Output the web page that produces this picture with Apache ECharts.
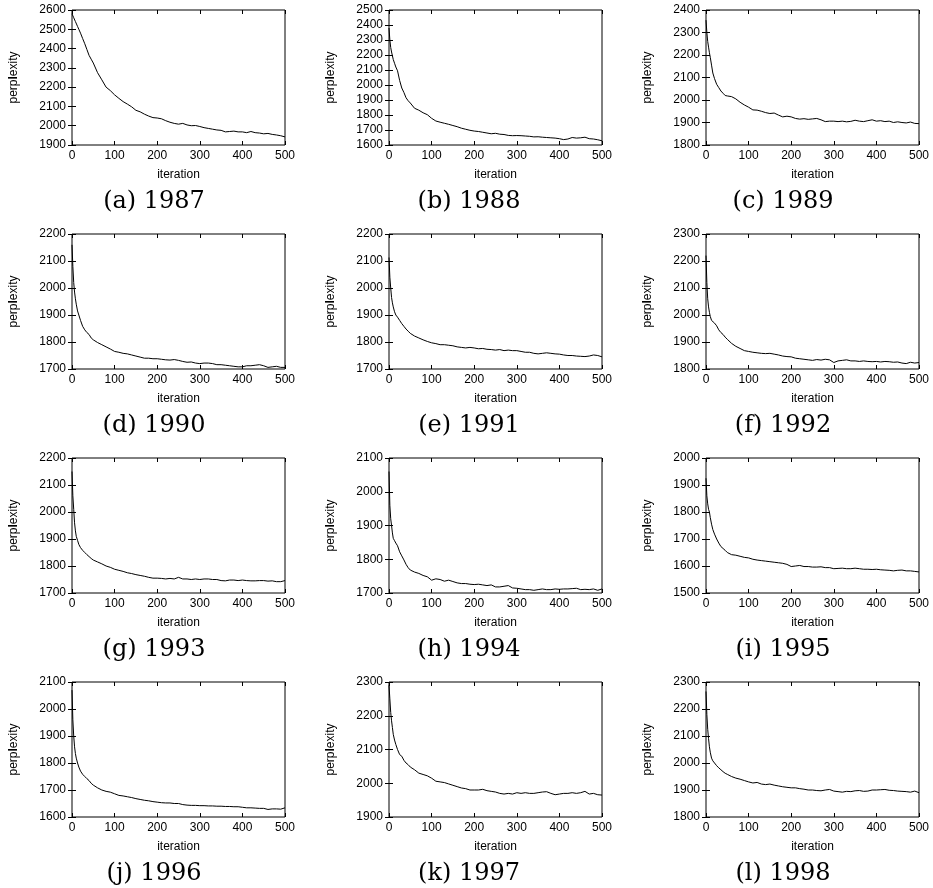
<!DOCTYPE html>
<html>
<head>
<meta charset="utf-8">
<script src="https://cdn.jsdelivr.net/npm/echarts@6/dist/echarts.min.js"></script>
<style>
  html, body { margin: 0; padding: 0; background: #fff; }
  #perp-chart { width: 933px; height: 888px; }
</style>
</head>
<body>
<div id="perp-chart"></div>
<script>
const iterations = [0, 2, 4, 6, 8, 10, 13, 16, 20, 25, 30, 35, 40, 45, 50,
  60, 70, 80, 90, 100, 110, 120, 130, 140, 150, 160, 170, 180, 190, 200,
  210, 220, 230, 240, 250, 260, 270, 280, 290, 300, 310, 320, 330, 340, 350,
  360, 370, 380, 390, 400, 410, 420, 430, 440, 450, 460, 470, 480, 490, 500];

const perp1987 = [2580, 2570, 2560, 2550, 2540, 2530, 2515, 2500, 2480, 2452, 2425, 2395, 2365, 2345, 2325,
  2275, 2238, 2200, 2182, 2160, 2142, 2125, 2112, 2098, 2080, 2072, 2060, 2050, 2042, 2040,
  2036, 2026, 2018, 2012, 2008, 2012, 2004, 2000, 2001, 1996, 1990, 1986, 1982, 1978, 1976,
  1968, 1970, 1972, 1968, 1968, 1964, 1970, 1964, 1962, 1958, 1960, 1955, 1952, 1948, 1942];
const perp1988 = [2380, 2300, 2250, 2220, 2195, 2170, 2145, 2120, 2095, 2030, 1980, 1950, 1915, 1895, 1880,
  1845, 1832, 1815, 1802, 1778, 1760, 1752, 1745, 1738, 1730, 1722, 1712, 1705, 1698, 1693,
  1690, 1685, 1680, 1675, 1678, 1672, 1670, 1664, 1662, 1663, 1662, 1660, 1658, 1654, 1655,
  1652, 1650, 1648, 1646, 1642, 1636, 1640, 1650, 1646, 1648, 1652, 1642, 1640, 1635, 1628];
const perp1989 = [2355, 2300, 2260, 2235, 2210, 2190, 2155, 2120, 2095, 2070, 2055, 2040, 2030, 2020, 2018,
  2015, 2005, 1990, 1978, 1968, 1956, 1955, 1950, 1944, 1940, 1942, 1933, 1925, 1928, 1925,
  1918, 1915, 1917, 1914, 1916, 1918, 1912, 1904, 1906, 1906, 1904, 1906, 1903, 1905, 1910,
  1906, 1904, 1908, 1912, 1906, 1908, 1904, 1906, 1900, 1903, 1900, 1898, 1902, 1896, 1895];
const perp1990 = [2160, 2080, 2020, 1985, 1960, 1940, 1915, 1900, 1880, 1858, 1845, 1835, 1828, 1815, 1808,
  1798, 1790, 1782, 1774, 1765, 1762, 1758, 1756, 1752, 1748, 1744, 1740, 1740, 1738, 1738,
  1736, 1734, 1733, 1735, 1732, 1728, 1725, 1726, 1722, 1720, 1722, 1722, 1720, 1716, 1716,
  1714, 1712, 1710, 1708, 1708, 1712, 1712, 1714, 1716, 1712, 1706, 1708, 1710, 1706, 1706];
const perp1991 = [2113, 2040, 2000, 1965, 1945, 1930, 1912, 1900, 1892, 1880, 1868, 1858, 1848, 1840, 1832,
  1822, 1815, 1808, 1802, 1797, 1794, 1790, 1790, 1788, 1786, 1782, 1780, 1778, 1780, 1778,
  1775, 1776, 1773, 1772, 1770, 1772, 1768, 1770, 1768, 1768, 1765, 1762, 1762, 1758, 1756,
  1758, 1760, 1758, 1756, 1755, 1752, 1750, 1750, 1748, 1747, 1746, 1748, 1752, 1750, 1745];
const perp1992 = [2220, 2120, 2060, 2030, 2010, 1995, 1980, 1975, 1970, 1960, 1945, 1935, 1928, 1918, 1910,
  1895, 1884, 1876, 1868, 1865, 1862, 1860, 1858, 1857, 1858, 1855, 1852, 1848, 1846, 1845,
  1840, 1838, 1836, 1834, 1832, 1835, 1833, 1836, 1834, 1824, 1830, 1832, 1834, 1830, 1830,
  1828, 1830, 1828, 1827, 1828, 1826, 1828, 1827, 1825, 1826, 1822, 1820, 1825, 1822, 1824];
const perp1993 = [2150, 2060, 2010, 1960, 1930, 1910, 1895, 1880, 1868, 1858, 1850, 1842, 1835, 1828, 1822,
  1815, 1808, 1800, 1795, 1788, 1784, 1780, 1775, 1772, 1768, 1765, 1762, 1758, 1755, 1755,
  1754, 1752, 1754, 1752, 1758, 1752, 1752, 1750, 1752, 1750, 1752, 1752, 1750, 1750, 1746,
  1745, 1748, 1748, 1746, 1748, 1746, 1745, 1745, 1746, 1746, 1744, 1745, 1742, 1742, 1746];
const perp1994 = [2060, 1960, 1920, 1900, 1878, 1862, 1855, 1848, 1840, 1822, 1810, 1798, 1785, 1775, 1768,
  1762, 1758, 1752, 1748, 1738, 1742, 1740, 1735, 1738, 1734, 1730, 1728, 1728, 1726, 1725,
  1726, 1724, 1722, 1724, 1718, 1718, 1720, 1722, 1715, 1714, 1712, 1710, 1710, 1708, 1710,
  1712, 1710, 1710, 1712, 1711, 1712, 1712, 1713, 1714, 1710, 1711, 1710, 1712, 1708, 1712];
const perp1995 = [1925, 1860, 1830, 1810, 1800, 1780, 1755, 1735, 1718, 1700, 1685, 1672, 1665, 1658, 1650,
  1642, 1640, 1636, 1632, 1630, 1625, 1622, 1620, 1618, 1616, 1614, 1612, 1610, 1606, 1598,
  1600, 1602, 1598, 1598, 1596, 1596, 1597, 1594, 1594, 1590, 1591, 1592, 1590, 1590, 1592,
  1590, 1588, 1588, 1587, 1588, 1586, 1585, 1584, 1582, 1584, 1585, 1582, 1582, 1580, 1578];
const perp1996 = [2070, 1960, 1900, 1860, 1835, 1818, 1800, 1785, 1770, 1758, 1750, 1742, 1735, 1725, 1718,
  1708, 1700, 1695, 1692, 1686, 1680, 1678, 1675, 1672, 1668, 1665, 1662, 1660, 1657, 1655,
  1653, 1652, 1652, 1650, 1650, 1646, 1644, 1643, 1643, 1642, 1642, 1641, 1641, 1640, 1640,
  1639, 1639, 1638, 1638, 1636, 1634, 1634, 1633, 1632, 1632, 1628, 1630, 1630, 1629, 1634];
const perp1997 = [2290, 2250, 2210, 2185, 2165, 2145, 2128, 2115, 2100, 2085, 2080, 2068, 2060, 2055, 2048,
  2040, 2030, 2026, 2022, 2015, 2006, 2004, 2002, 1998, 1994, 1990, 1986, 1984, 1980, 1980,
  1980, 1982, 1978, 1976, 1974, 1970, 1968, 1970, 1968, 1972, 1970, 1972, 1970, 1970, 1972,
  1974, 1975, 1970, 1966, 1968, 1970, 1970, 1972, 1970, 1972, 1976, 1968, 1970, 1966, 1965];
const perp1998 = [2265, 2180, 2125, 2090, 2060, 2040, 2018, 2008, 2000, 1990, 1982, 1975, 1968, 1962, 1958,
  1950, 1944, 1940, 1935, 1930, 1926, 1928, 1922, 1920, 1922, 1918, 1915, 1912, 1910, 1908,
  1908, 1905, 1903, 1900, 1900, 1898, 1897, 1900, 1902, 1896, 1894, 1892, 1895, 1894, 1897,
  1898, 1895, 1896, 1900, 1900, 1901, 1902, 1899, 1898, 1896, 1895, 1894, 1892, 1896, 1890];

const captions = ['(a) 1987', '(b) 1988', '(c) 1989', '(d) 1990', '(e) 1991', '(f) 1992',
  '(g) 1993', '(h) 1994', '(i) 1995', '(j) 1996', '(k) 1997', '(l) 1998'];
const yMins = [1900, 1600, 1800, 1700, 1700, 1800, 1700, 1700, 1500, 1600, 1900, 1800];
const yMaxs = [2600, 2500, 2400, 2200, 2200, 2300, 2200, 2100, 2000, 2100, 2300, 2300];
const curves = [perp1987, perp1988, perp1989, perp1990, perp1991, perp1992,
  perp1993, perp1994, perp1995, perp1996, perp1997, perp1998];

const chart = echarts.init(document.getElementById('perp-chart'));

const colLeft = [72, 389, 706];
const rowTop = [10, 234, 458, 682];
const capX = [154, 469, 783];
const plotW = 213, plotH = 135;
const sans = 'Liberation Sans, Arial, sans-serif';
const tickFont = { color: '#000', fontSize: 12, fontFamily: sans };
const plain = v => String(v);

const grids = [], xAxes = [], yAxes = [], series = [], graphics = [];

curves.forEach((vals, i) => {
  const r = Math.floor(i / 3), c = i % 3;
  grids.push({
    left: colLeft[c], top: rowTop[r], width: plotW, height: plotH,
    show: true, borderColor: '#000', borderWidth: 1, backgroundColor: 'transparent'
  });
  // bottom + mirrored top x axis
  xAxes.push({
    type: 'value', gridIndex: i, min: 0, max: 500, interval: 100,
    name: 'iteration', nameLocation: 'middle', nameGap: 24,
    nameTextStyle: tickFont,
    axisLine: { show: false },
    axisTick: { show: true, inside: true, length: 4, lineStyle: { color: '#000' } },
    axisLabel: Object.assign({ margin: 5, formatter: plain }, tickFont),
    splitLine: { show: false }
  });
  xAxes.push({
    type: 'value', gridIndex: i, position: 'top', min: 0, max: 500, interval: 100,
    axisLine: { show: false },
    axisTick: { show: true, inside: true, length: 4, lineStyle: { color: '#000' } },
    axisLabel: { show: false }, splitLine: { show: false }
  });
  // left + mirrored right y axis
  yAxes.push({
    type: 'value', gridIndex: i, min: yMins[i], max: yMaxs[i], interval: 100,
    name: 'perp{b|l}exity', nameLocation: 'middle', nameGap: 52, nameRotate: 90,
    nameTextStyle: Object.assign({
      rich: { b: { fontWeight: 'bold', fontSize: 12, color: '#000', fontFamily: sans } }
    }, tickFont),
    axisLine: { show: false },
    axisTick: { show: true, inside: true, length: 4, lineStyle: { color: '#000' } },
    axisLabel: Object.assign({ margin: 6, formatter: plain }, tickFont),
    splitLine: { show: false }
  });
  yAxes.push({
    type: 'value', gridIndex: i, position: 'right', min: yMins[i], max: yMaxs[i], interval: 100,
    axisLine: { show: false },
    axisTick: { show: true, inside: true, length: 4, lineStyle: { color: '#000' } },
    axisLabel: { show: false }, splitLine: { show: false }
  });
  series.push({
    type: 'line', xAxisIndex: 2 * i, yAxisIndex: 2 * i,
    data: iterations.map((it, k) => [it, vals[k]]),
    showSymbol: false, symbol: 'none',
    lineStyle: { color: '#000', width: 1 },
    silent: true
  });
  graphics.push({
    type: 'text', x: capX[c], y: rowTop[r] + plotH + 57,
    style: {
      text: captions[i], fill: '#000', align: 'center', verticalAlign: 'middle',
      fontSize: 24, fontFamily: 'DejaVu Serif, serif'
    }
  });
});

chart.setOption({
  animation: false,
  grid: grids,
  xAxis: xAxes,
  yAxis: yAxes,
  series: series,
  graphic: graphics
});
</script>
</body>
</html>
